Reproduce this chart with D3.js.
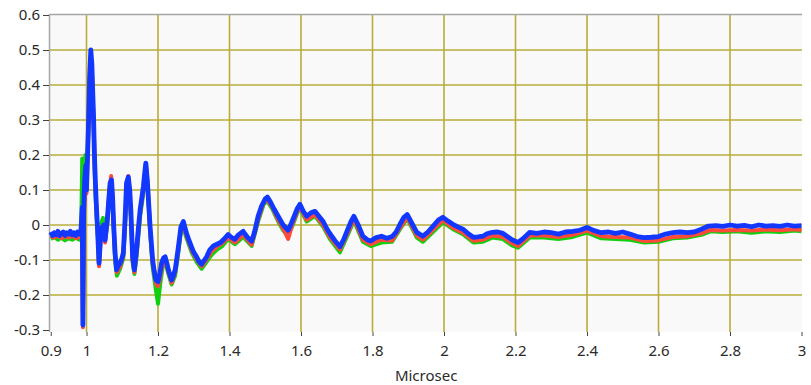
<!DOCTYPE html>
<html>
<head>
<meta charset="utf-8">
<script src="https://cdn.jsdelivr.net/npm/d3@7"></script>
<style>
  body { margin: 0; background: #fff; }
  svg text { font-family: "Noto Sans", "Open Sans", sans-serif; }
</style>
</head>
<body>
<svg id="chart"></svg>
<script>
// tick values / labels
const xTicks = [0.9, 1, 1.2, 1.4, 1.6, 1.8, 2, 2.2, 2.4, 2.6, 2.8, 3];
const yTicks = [-0.3, -0.2, -0.1, 0, 0.1, 0.2, 0.3, 0.4, 0.5, 0.6];
const xGrid = [1, 1.2, 1.4, 1.6, 1.8, 2, 2.2, 2.4, 2.6, 2.8];
const yGrid = [-0.2, -0.1, 0, 0.1, 0.2, 0.3, 0.4, 0.5];
const xTitle = 'Microsec';

// series: [microsec, value]
const blueSeries = [
  [0.900,-0.020],[0.905,-0.030],[0.910,-0.022],[0.915,-0.028],[0.920,-0.018],[0.925,-0.030],
  [0.930,-0.024],[0.935,-0.020],[0.940,-0.030],[0.945,-0.022],[0.950,-0.026],[0.955,-0.018],
  [0.960,-0.028],[0.965,-0.022],[0.970,-0.030],[0.975,-0.020],[0.980,-0.026],[0.984,-0.024],
  [0.986,0.010],[0.988,0.050],[0.990,-0.286],[0.992,0.040],[0.995,0.130],[0.998,0.170],
  [1.000,0.100],[1.003,0.200],[1.006,0.300],[1.009,0.430],[1.012,0.500],[1.015,0.460],
  [1.017,0.395],[1.020,0.300],[1.022,0.206],[1.025,0.120],[1.027,0.070],[1.031,-0.015],
  [1.035,-0.109],[1.040,-0.024],[1.044,-0.006],[1.048,0.000],[1.052,-0.043],[1.058,0.014],
  [1.063,0.080],[1.066,0.120],[1.070,0.129],[1.073,0.080],[1.076,0.000],[1.080,-0.080],
  [1.084,-0.128],[1.089,-0.115],[1.094,-0.109],[1.099,-0.095],[1.103,-0.080],[1.108,0.020],
  [1.112,0.120],[1.117,0.137],[1.121,0.100],[1.124,0.043],[1.129,-0.091],[1.134,-0.128],
  [1.140,-0.071],[1.145,-0.010],[1.150,0.043],[1.155,0.080],[1.159,0.109],[1.163,0.150],
  [1.166,0.177],[1.170,0.129],[1.174,0.060],[1.178,-0.006],[1.185,-0.100],[1.190,-0.135],
  [1.194,-0.157],[1.200,-0.162],[1.205,-0.140],[1.210,-0.109],[1.215,-0.095],[1.220,-0.091],
  [1.225,-0.110],[1.229,-0.128],[1.234,-0.145],[1.238,-0.157],[1.243,-0.145],[1.248,-0.128],
  [1.252,-0.100],[1.257,-0.063],[1.264,-0.006],[1.271,0.010],[1.276,-0.010],[1.280,-0.024],
  [1.287,-0.045],[1.294,-0.063],[1.300,-0.078],[1.308,-0.091],[1.315,-0.105],[1.322,-0.112],
  [1.330,-0.100],[1.336,-0.091],[1.345,-0.071],[1.355,-0.060],[1.365,-0.055],[1.375,-0.050],
  [1.385,-0.040],[1.396,-0.027],[1.405,-0.035],[1.415,-0.041],[1.425,-0.028],[1.438,-0.018],
  [1.450,-0.035],[1.462,-0.046],[1.470,-0.020],[1.480,0.025],[1.490,0.055],[1.500,0.075],
  [1.506,0.080],[1.515,0.065],[1.525,0.045],[1.536,0.025],[1.550,0.000],[1.564,-0.015],
  [1.573,0.005],[1.583,0.030],[1.590,0.048],[1.597,0.059],[1.606,0.040],[1.616,0.025],
  [1.628,0.035],[1.639,0.039],[1.650,0.025],[1.662,0.010],[1.672,-0.010],[1.681,-0.025],
  [1.695,-0.045],[1.709,-0.062],[1.720,-0.040],[1.731,-0.012],[1.740,0.010],[1.748,0.025],
  [1.760,0.000],[1.773,-0.032],[1.785,-0.042],[1.795,-0.046],[1.810,-0.036],[1.825,-0.032],
  [1.840,-0.038],[1.855,-0.033],[1.866,-0.020],[1.877,0.002],[1.888,0.022],[1.897,0.030],
  [1.910,0.005],[1.924,-0.021],[1.941,-0.032],[1.955,-0.020],[1.969,-0.004],[1.985,0.015],
  [1.997,0.022],[2.010,0.012],[2.025,0.002],[2.040,-0.006],[2.053,-0.012],[2.068,-0.025],
  [2.082,-0.035],[2.095,-0.034],[2.109,-0.032],[2.120,-0.025],[2.135,-0.021],[2.150,-0.020],
  [2.165,-0.024],[2.176,-0.032],[2.190,-0.042],[2.207,-0.050],[2.220,-0.040],[2.240,-0.021],
  [2.260,-0.024],[2.280,-0.020],[2.300,-0.022],[2.320,-0.026],[2.340,-0.020],[2.360,-0.018],
  [2.380,-0.015],[2.400,-0.007],[2.420,-0.016],[2.440,-0.022],[2.460,-0.020],[2.480,-0.024],
  [2.500,-0.020],[2.520,-0.026],[2.540,-0.033],[2.560,-0.036],[2.580,-0.035],[2.600,-0.033],
  [2.620,-0.026],[2.640,-0.022],[2.660,-0.020],[2.680,-0.022],[2.700,-0.020],[2.720,-0.012],
  [2.740,-0.003],[2.760,-0.002],[2.780,-0.004],[2.800,0.000],[2.820,-0.003],[2.840,-0.001],
  [2.860,-0.005],[2.880,0.000],[2.900,-0.003],[2.920,-0.002],[2.940,-0.004],[2.960,0.000],
  [2.980,-0.003],[3.000,-0.002]
];

const redSeries = [
  [0.900,-0.032],[0.910,-0.036],[0.920,-0.030],[0.930,-0.038],[0.940,-0.032],[0.950,-0.036],
  [0.960,-0.030],[0.970,-0.038],[0.980,-0.034],[0.984,-0.030],[0.987,0.030],[0.990,-0.292],
  [0.993,0.030],[0.996,0.120],[1.000,0.090],[1.004,0.220],[1.008,0.400],[1.012,0.480],
  [1.016,0.420],[1.020,0.290],[1.024,0.130],[1.028,0.040],[1.032,-0.030],[1.035,-0.118],
  [1.040,-0.035],[1.046,-0.010],[1.052,-0.050],[1.058,0.005],[1.064,0.100],[1.069,0.140],
  [1.073,0.070],[1.080,-0.090],[1.085,-0.135],[1.094,-0.118],[1.103,-0.088],[1.108,0.010],
  [1.113,0.115],[1.117,0.140],[1.124,0.035],[1.129,-0.100],[1.134,-0.135],[1.140,-0.080],
  [1.150,0.035],[1.159,0.100],[1.166,0.175],[1.171,0.115],[1.178,-0.015],[1.185,-0.110],
  [1.194,-0.165],[1.200,-0.175],[1.206,-0.150],[1.213,-0.110],[1.220,-0.098],[1.229,-0.135],
  [1.238,-0.165],[1.248,-0.135],[1.257,-0.070],[1.264,-0.012],[1.271,0.000],[1.280,-0.032],
  [1.294,-0.072],[1.308,-0.098],[1.322,-0.118],[1.336,-0.098],[1.350,-0.075],[1.365,-0.062],
  [1.380,-0.052],[1.396,-0.036],[1.415,-0.050],[1.438,-0.028],[1.462,-0.056],[1.480,0.015],
  [1.496,0.065],[1.506,0.072],[1.520,0.050],[1.536,0.015],[1.550,-0.010],[1.564,-0.040],
  [1.575,0.000],[1.590,0.040],[1.597,0.052],[1.616,0.015],[1.639,0.030],[1.662,0.000],
  [1.681,-0.035],[1.709,-0.070],[1.731,-0.022],[1.748,0.018],[1.773,-0.042],[1.795,-0.055],
  [1.825,-0.042],[1.855,-0.044],[1.877,-0.008],[1.897,0.022],[1.924,-0.030],[1.941,-0.042],
  [1.969,-0.014],[1.997,0.014],[2.025,-0.008],[2.053,-0.022],[2.082,-0.045],[2.109,-0.042],
  [2.135,-0.030],[2.165,-0.034],[2.190,-0.052],[2.207,-0.060],[2.240,-0.030],[2.280,-0.030],
  [2.320,-0.034],[2.360,-0.028],[2.400,-0.016],[2.440,-0.032],[2.480,-0.034],[2.520,-0.036],
  [2.560,-0.046],[2.600,-0.044],[2.640,-0.034],[2.680,-0.032],[2.720,-0.024],[2.745,-0.014],
  [2.780,-0.016],[2.820,-0.014],[2.860,-0.016],[2.900,-0.013],[2.940,-0.015],[2.980,-0.012],
  [3.000,-0.014]
];

const greenSeries = [
  [0.900,-0.040],[0.910,-0.034],[0.920,-0.042],[0.930,-0.036],[0.940,-0.044],[0.950,-0.038],
  [0.960,-0.042],[0.970,-0.036],[0.980,-0.042],[0.985,-0.030],[0.988,0.190],[0.990,-0.250],
  [0.993,0.060],[0.997,0.200],[1.000,0.130],[1.004,0.240],[1.008,0.380],[1.012,0.460],
  [1.016,0.400],[1.020,0.280],[1.024,0.120],[1.028,0.030],[1.032,-0.040],[1.035,-0.110],
  [1.040,0.000],[1.046,0.020],[1.052,-0.040],[1.058,0.000],[1.064,0.090],[1.069,0.120],
  [1.073,0.060],[1.080,-0.100],[1.085,-0.145],[1.094,-0.125],[1.103,-0.095],[1.108,0.000],
  [1.113,0.100],[1.117,0.120],[1.124,0.025],[1.129,-0.105],[1.134,-0.140],[1.140,-0.090],
  [1.150,0.025],[1.159,0.090],[1.166,0.160],[1.171,0.110],[1.178,-0.020],[1.185,-0.120],
  [1.194,-0.185],[1.200,-0.225],[1.206,-0.170],[1.213,-0.120],[1.220,-0.105],[1.229,-0.140],
  [1.238,-0.170],[1.248,-0.145],[1.257,-0.078],[1.264,-0.020],[1.271,-0.008],[1.280,-0.038],
  [1.294,-0.078],[1.308,-0.105],[1.322,-0.125],[1.336,-0.105],[1.350,-0.085],[1.365,-0.070],
  [1.380,-0.060],[1.396,-0.040],[1.415,-0.055],[1.438,-0.034],[1.462,-0.060],[1.480,0.010],
  [1.496,0.060],[1.506,0.068],[1.520,0.045],[1.536,0.010],[1.550,-0.015],[1.564,-0.030],
  [1.575,-0.005],[1.590,0.035],[1.597,0.048],[1.616,0.010],[1.639,0.026],[1.662,-0.005],
  [1.681,-0.040],[1.709,-0.078],[1.731,-0.028],[1.748,0.012],[1.773,-0.048],[1.795,-0.060],
  [1.825,-0.050],[1.855,-0.048],[1.877,-0.012],[1.897,0.018],[1.924,-0.036],[1.941,-0.048],
  [1.969,-0.020],[1.997,0.008],[2.025,-0.012],[2.053,-0.026],[2.082,-0.050],[2.109,-0.048],
  [2.135,-0.036],[2.165,-0.040],[2.190,-0.058],[2.207,-0.065],[2.240,-0.036],[2.280,-0.036],
  [2.320,-0.040],[2.360,-0.034],[2.400,-0.022],[2.440,-0.038],[2.480,-0.040],[2.520,-0.042],
  [2.560,-0.050],[2.600,-0.048],[2.640,-0.038],[2.680,-0.036],[2.720,-0.028],[2.745,-0.018],
  [2.780,-0.020],[2.820,-0.018],[2.860,-0.022],[2.900,-0.018],[2.940,-0.020],[2.980,-0.016],
  [3.000,-0.018]
];

const seriesList = [
  { name: 'green', data: greenSeries, color: '#10d010', width: 4 },
  { name: 'red',   data: redSeries,   color: '#ff4a3a', width: 4 },
  { name: 'blue',  data: blueSeries,  color: '#1238ff', width: 4.8 }
];

const width = 811, height = 385;
const plot = { left: 50, top: 14, right: 802, bottom: 332 };

const svg = d3.select('#chart')
  .attr('width', width)
  .attr('height', height);

const x = d3.scaleLinear().domain([0.9, 3]).range([50.75, 801.5]);
const y = d3.scaleLinear().domain([-0.3, 0.6]).range([330, 15]);

// plot background
svg.append('rect')
  .attr('x', plot.left)
  .attr('y', plot.top)
  .attr('width', plot.right - plot.left)
  .attr('height', plot.bottom - plot.top)
  .attr('fill', '#f9f9f9');

// grid
const grid = svg.append('g')
  .attr('stroke', '#b8ad3a')
  .attr('stroke-width', 1.6);

grid.selectAll('line.v')
  .data(xGrid)
  .enter().append('line')
  .attr('class', 'v')
  .attr('x1', d => x(d)).attr('x2', d => x(d))
  .attr('y1', plot.top).attr('y2', plot.bottom);

grid.selectAll('line.h')
  .data(yGrid)
  .enter().append('line')
  .attr('class', 'h')
  .attr('y1', d => y(d)).attr('y2', d => y(d))
  .attr('x1', plot.left).attr('x2', plot.right);

// frame: top border and left axis line
svg.append('line')
  .attr('x1', plot.left).attr('x2', plot.right)
  .attr('y1', plot.top + 0.5).attr('y2', plot.top + 0.5)
  .attr('stroke', '#a6a6a6').attr('stroke-width', 1.5);
svg.append('line')
  .attr('x1', plot.left - 0.5).attr('x2', plot.left - 0.5)
  .attr('y1', plot.top).attr('y2', plot.bottom)
  .attr('stroke', '#a6a6a6').attr('stroke-width', 1.5);

// series
const line = d3.line()
  .x(d => x(d[0]))
  .y(d => y(d[1]));

svg.append('g')
  .selectAll('path')
  .data(seriesList)
  .enter().append('path')
  .attr('d', d => line(d.data))
  .attr('fill', 'none')
  .attr('stroke', d => d.color)
  .attr('stroke-width', d => d.width)
  .attr('stroke-linejoin', 'round');

const fmt = d => String(+(+d).toFixed(1));

// axes
const yAxis = svg.append('g')
  .attr('transform', `translate(${plot.left - 1},0)`)
  .call(d3.axisLeft(y).tickValues(yTicks).tickSize(6).tickPadding(3).tickFormat(fmt));

const xAxis = svg.append('g')
  .attr('transform', `translate(0,${plot.bottom})`)
  .call(d3.axisBottom(x).tickValues(xTicks).tickSize(4).tickPadding(9).tickFormat(fmt));

svg.selectAll('.domain').remove();
svg.selectAll('.tick line').attr('stroke', '#444');
svg.selectAll('.tick text')
  .attr('fill', '#2a2a2a')
  .style('font-size', '15px');

svg.append('text')
  .attr('x', (x.range()[0] + x.range()[1]) / 2)
  .attr('y', 381)
  .attr('text-anchor', 'middle')
  .attr('fill', '#2a2a2a')
  .style('font-size', '15px')
  .text(xTitle);
</script>
</body>
</html>
